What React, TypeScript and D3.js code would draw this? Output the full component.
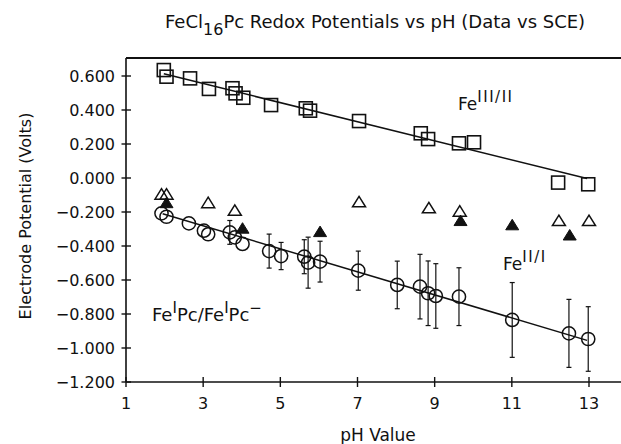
import React from "react";
import * as d3 from "d3";

// ---- data ----
const phTicks = [1, 3, 5, 7, 9, 11, 13];
const vTicks = [0.6, 0.4, 0.2, 0.0, -0.2, -0.4, -0.6, -0.8, -1.0, -1.2];

// Fe(III)/Fe(II) couple: [pH, E]
const fe32 = [
  [1.98, 0.635], [2.05, 0.596], [2.66, 0.586], [3.15, 0.524], [3.76, 0.528],
  [3.84, 0.498], [4.04, 0.472], [4.76, 0.429], [5.66, 0.41], [5.77, 0.396],
  [7.04, 0.335], [8.64, 0.263], [8.83, 0.229], [9.63, 0.204], [10.02, 0.21],
  [12.2, -0.027], [12.98, -0.037],
];
const fe32Fit = [[1.98, 0.613], [12.95, -0.003]];

// Fe(II)/Fe(I) couple, open triangles
const fe21Open = [
  [1.92, -0.10], [2.05, -0.10], [3.13, -0.15], [3.82, -0.195], [7.04, -0.145],
  [8.85, -0.18], [9.65, -0.20], [12.22, -0.255], [13.0, -0.255],
];
// Fe(II)/Fe(I) couple, filled triangles
const fe21Filled = [
  [2.05, -0.15], [4.02, -0.30], [6.03, -0.32], [9.67, -0.255], [11.01, -0.28], [12.5, -0.34],
];

// FeIPc / FeIPc- couple: [pH, E, error]
const fe1 = [
  [1.92, -0.208, 0], [2.05, -0.228, 0], [2.63, -0.267, 0], [3.02, -0.31, 0],
  [3.13, -0.331, 0], [3.69, -0.32, 0.07], [3.82, -0.349, 0], [4.02, -0.388, 0],
  [4.71, -0.43, 0.10], [5.02, -0.459, 0.08], [5.62, -0.463, 0.10], [5.72, -0.498, 0.15],
  [6.03, -0.492, 0.12], [7.02, -0.545, 0.115], [8.03, -0.629, 0.14], [8.62, -0.639, 0.19],
  [8.83, -0.678, 0.19], [9.03, -0.694, 0.19], [9.63, -0.698, 0.17], [11.01, -0.835, 0.22],
  [12.48, -0.914, 0.20], [12.98, -0.947, 0.19],
];
const fe1Fit = [[1.95, -0.21], [12.95, -0.955]];

const W = 621;
const H = 444;
const FONT = "DejaVu Sans";

export default function App() {
  const x = d3.scaleLinear().domain([1, 13]).range([126, 589]);
  const y = d3.scaleLinear().domain([-1.2, 0.6]).range([382, 76]);
  const line = d3.line<number[]>().x((d) => x(d[0])).y((d) => y(d[1]));
  const fmt = (v: number) => {
    const s = Math.abs(v).toFixed(3);
    return v < -1e-9 ? "\u2212" + s : s;
  };
  const left = 126;
  const right = 621;
  const top = 58;
  const bottom = 382;
  const tri = (cx: number, cy: number) => {
    const w = 6.5, h = 10.5;
    return `M${cx},${cy - h * 0.6}L${cx + w},${cy + h * 0.4}L${cx - w},${cy + h * 0.4}Z`;
  };

  return (
    <svg width={W} height={H} style={{ position: "absolute", left: 0, top: 0, background: "#fff" }} fontFamily={FONT}>
      {/* title */}
      <text x={165} y={28} fontSize={18} fill="#111">
        FeCl<tspan dy={7} fontSize={16}>16</tspan><tspan dy={-7}>Pc Redox Potentials vs pH (Data vs SCE)</tspan>
      </text>

      {/* frame */}
      <line x1={left} x2={right} y1={top} y2={top} stroke="#111" strokeWidth={2} />
      <line x1={left} x2={right} y1={bottom} y2={bottom} stroke="#111" strokeWidth={1.6} />
      <line x1={left} x2={left} y1={top} y2={bottom} stroke="#111" strokeWidth={1.6} />

      {/* y ticks */}
      {vTicks.map((v) => (
        <g key={"yt" + v}>
          <line x1={left - 4.5} x2={left + 5} y1={y(v)} y2={y(v)} stroke="#111" strokeWidth={1.4} />
          <text x={115} y={y(v) + 5.8} fontSize={16} textAnchor="end" fill="#111">{fmt(v)}</text>
        </g>
      ))}
      {/* x ticks */}
      {phTicks.map((p) => (
        <g key={"xt" + p}>
          <line x1={x(p)} x2={x(p)} y1={bottom - 5} y2={bottom + 5} stroke="#111" strokeWidth={1.4} />
          <text x={x(p)} y={409} fontSize={16} textAnchor="middle" fill="#111">{p}</text>
        </g>
      ))}

      {/* axis labels */}
      <text x={378} y={441} fontSize={17} textAnchor="middle" fill="#111">pH Value</text>
      <text transform={`translate(31,216) rotate(-90)`} fontSize={16} textAnchor="middle" fill="#111">
        Electrode Potential (Volts)
      </text>

      {/* fit lines */}
      <path d={line(fe32Fit) || ""} fill="none" stroke="#111" strokeWidth={1.5} />
      <path d={line(fe1Fit) || ""} fill="none" stroke="#111" strokeWidth={1.5} />

      {/* squares */}
      {fe32.map((d, i) => (
        <rect key={"sq" + i} x={x(d[0]) - 6.5} y={y(d[1]) - 6.5} width={13} height={13} fill="none" stroke="#111" strokeWidth={1.6} />
      ))}

      {/* error bars */}
      {fe1.filter((d) => d[2] > 0).map((d, i) => (
        <g key={"eb" + i} stroke="#111" strokeWidth={1.2}>
          <line x1={x(d[0])} x2={x(d[0])} y1={y(d[1] + d[2])} y2={y(d[1] - d[2])} />
          <line x1={x(d[0]) - 2.5} x2={x(d[0]) + 2.5} y1={y(d[1] + d[2])} y2={y(d[1] + d[2])} />
          <line x1={x(d[0]) - 2.5} x2={x(d[0]) + 2.5} y1={y(d[1] - d[2])} y2={y(d[1] - d[2])} />
        </g>
      ))}
      {/* circles */}
      {fe1.map((d, i) => (
        <circle key={"c" + i} cx={x(d[0])} cy={y(d[1])} r={6.6} fill="none" stroke="#111" strokeWidth={1.5} />
      ))}

      {/* triangles */}
      {fe21Open.map((d, i) => (
        <path key={"to" + i} d={tri(x(d[0]), y(d[1]))} fill="none" stroke="#111" strokeWidth={1.5} />
      ))}
      {fe21Filled.map((d, i) => (
        <path key={"tf" + i} d={tri(x(d[0]), y(d[1]))} fill="#111" stroke="#111" strokeWidth={1} />
      ))}

      {/* series labels */}
      <text x={458} y={110} fontSize={17} fill="#111">
        Fe<tspan dy={-8} fontSize={15} letterSpacing={1.5}>III/II</tspan>
      </text>
      <text x={503} y={270} fontSize={17} fill="#111">
        Fe<tspan dy={-8} fontSize={15} letterSpacing={1.5}>II/I</tspan>
      </text>
      <text x={152} y={321} fontSize={18} fill="#111">
        Fe<tspan dy={-8} fontSize={15}>I</tspan><tspan dy={8}>Pc/Fe</tspan><tspan dy={-8} fontSize={15}>I</tspan><tspan dy={8}>Pc</tspan><tspan dy={-8} fontSize={15}>{"\u2212"}</tspan>
      </text>
    </svg>
  );
}
